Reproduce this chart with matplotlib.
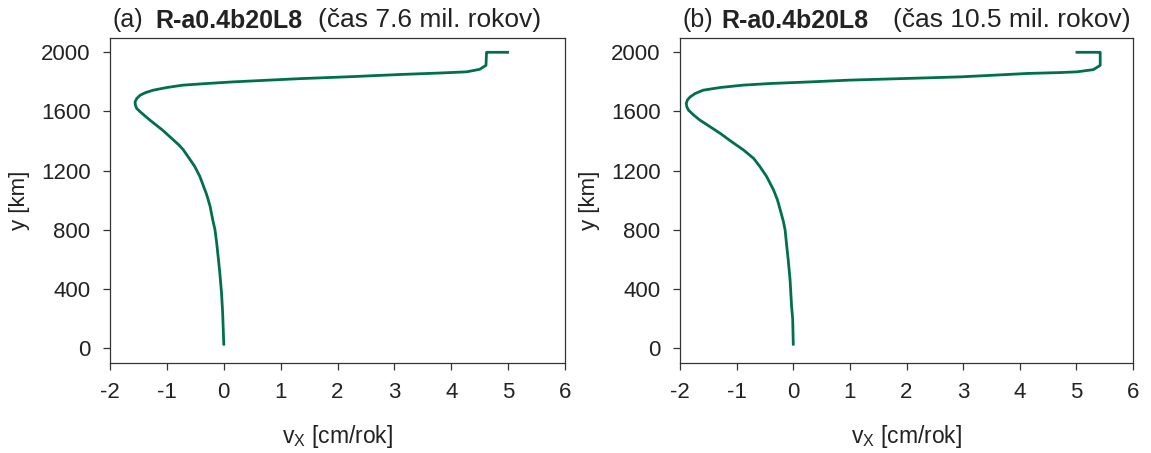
import matplotlib
matplotlib.use("Agg")
from matplotlib import pyplot as plt

plt.rcParams["font.family"] = ["Liberation Sans", "DejaVu Sans"]
plt.rcParams["axes.unicode_minus"] = False

# (a) cas 7.6 mil. rokov
vx_a = [0.0, -0.02, -0.04, -0.07, -0.10, -0.125, -0.155, -0.195, -0.24, -0.30, -0.42,
        -0.51, -0.59, -0.71, -0.79, -0.95, -1.08, -1.30, -1.47, -1.53, -1.555, -1.56,
        -1.53, -1.47, -1.38, -1.24, -1.0, -0.72, -0.30, 0.16, 1.34, 2.22, 3.1, 3.8,
        4.27, 4.50, 4.61, 4.62, 4.62, 4.99]
y_a = [27, 240, 375, 510, 622, 712, 801, 869, 958, 1037, 1160,
       1228, 1273, 1340, 1374, 1430, 1475, 1542, 1598, 1620, 1643, 1665,
       1688, 1710, 1727, 1744, 1762, 1778, 1789, 1800, 1822, 1835, 1850, 1860,
       1868, 1885, 1912, 1995, 2000, 2000]

# (b) cas 10.5 mil. rokov
vx_b = [0.0, -0.01, -0.03, -0.057, -0.09, -0.115, -0.145, -0.175, -0.215, -0.28, -0.35,
        -0.47, -0.59, -0.70, -0.88, -1.09, -1.29, -1.47, -1.65, -1.76, -1.85, -1.88,
        -1.89, -1.87, -1.82, -1.73, -1.59, -1.29, -0.89, -0.41, 0.30, 1.0, 1.89,
        2.95, 3.53, 4.13, 4.71, 5.01, 5.30, 5.42, 5.42, 5.42, 5.01]
y_b = [27, 195, 285, 465, 600, 689, 801, 857, 914, 1003, 1071,
       1160, 1228, 1283, 1340, 1396, 1452, 1497, 1542, 1576, 1609, 1632,
       1654, 1677, 1699, 1722, 1744, 1762, 1778, 1789, 1800, 1812, 1822,
       1834, 1845, 1857, 1863, 1868, 1883, 1912, 1991, 2000, 2000]

# tag, subtitle, x data, y data, axes left/width, title x positions (fig px)
panels = [("(a)", "(čas 7.6 mil. rokov)", vx_a, y_a, 0.0956, 0.3953, (113, 155, 318)),
          ("(b)", "(čas 10.5 mil. rokov)", vx_b, y_b, 0.5908, 0.3936, (682, 721, 893))]

W, H = 1151, 453
fig = plt.figure(figsize=(W / 100, H / 100), dpi=100)

for tag, sub, vx, y, left, width, tx in panels:
    ax = fig.add_axes([left, 0.1987, width, 0.7185])
    ax.plot(vx, y, color="#00704a", lw=2.0, solid_joinstyle="round")
    ax.set_xlim(-2, 6)
    ax.set_ylim(-100, 2100)
    ax.set_xticks(range(-2, 7))
    ax.set_yticks(range(0, 2001, 400))
    ax.tick_params(labelsize=16, length=5, width=0.9, color="#333333", pad=9,
                   labelcolor="#222222")
    for s in ax.spines.values():
        s.set_color("#333333")
        s.set_linewidth(0.9)
    ax.set_xlabel("v$_\\mathregular{X}$ [cm/rok]", fontsize=16.5, labelpad=14, color="#222222")
    ax.set_ylabel("y [km]", fontsize=16, labelpad=8, color="#222222")
    yb = 1 - 27.5 / H
    fig.text(tx[0] / W, yb, tag, fontsize=18, va="baseline", color="#222222")
    fig.text(tx[1] / W, yb, "R-a0.4b20L8", fontsize=18, fontweight="bold",
             va="baseline", color="#222222")
    fig.text(tx[2] / W, yb, sub, fontsize=19, va="baseline", color="#222222")

plt.savefig("out.png", dpi=100)
